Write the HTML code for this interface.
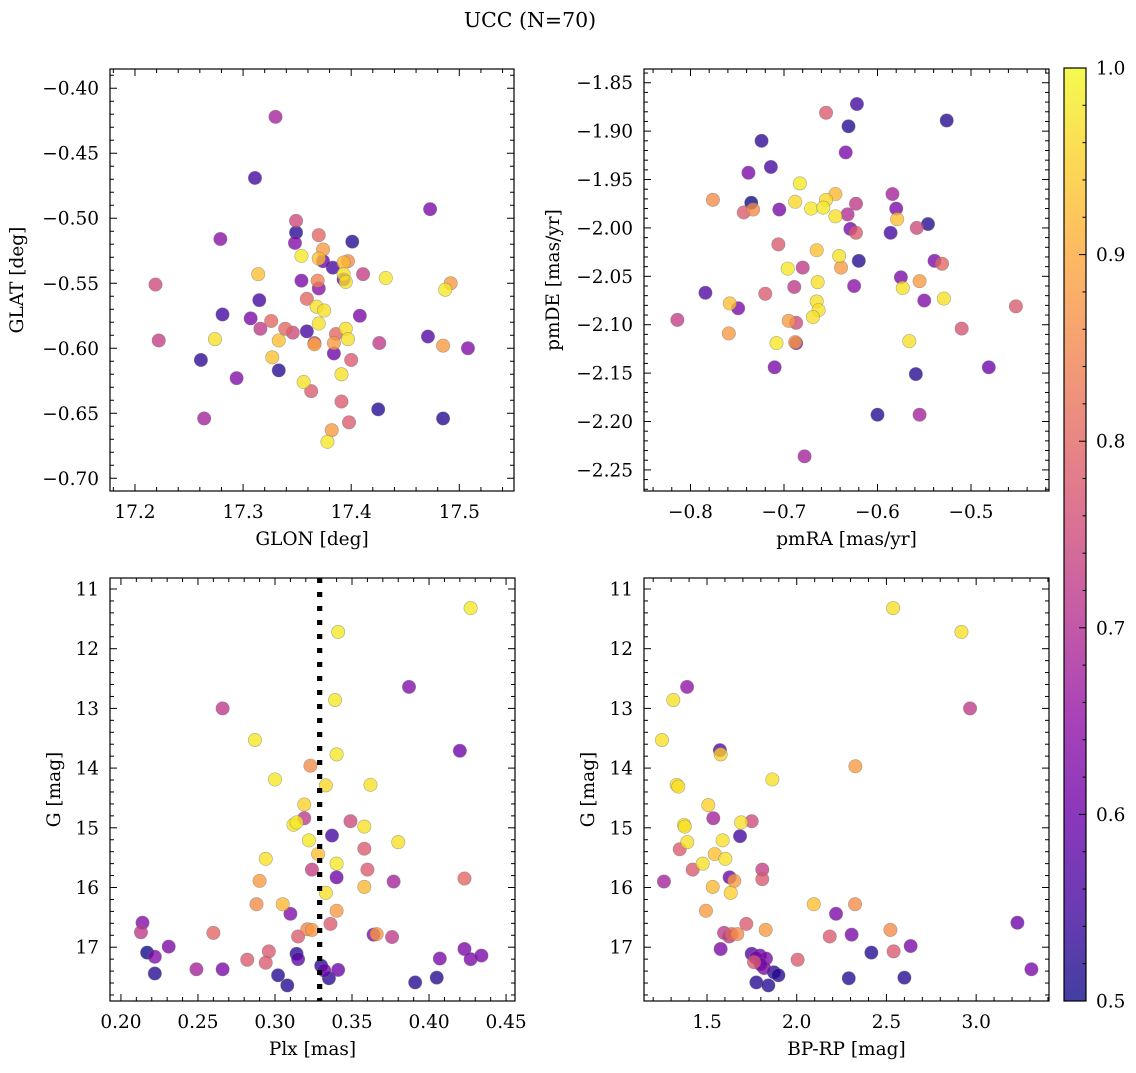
<!DOCTYPE html>
<html><head><meta charset="utf-8"><style>
html,body{margin:0;padding:0;background:#fff;}
svg text{font-family:"DejaVu Serif","Liberation Serif",serif;fill:#000;}
</style></head><body>
<svg id="fig" width="1136" height="1068" viewBox="0 0 1136 1068" xmlns="http://www.w3.org/2000/svg">
<text x="530" y="27" font-size="20.5" text-anchor="middle">UCC (N=70)</text>
<defs><linearGradient id="plasma" x1="0" y1="1" x2="0" y2="0">
<stop offset="0" stop-color="#0d0887"/><stop offset="0.1" stop-color="#41049d"/><stop offset="0.2" stop-color="#6a00a8"/><stop offset="0.3" stop-color="#8f0da4"/><stop offset="0.4" stop-color="#b12a90"/><stop offset="0.5" stop-color="#cc4778"/><stop offset="0.6" stop-color="#e16462"/><stop offset="0.7" stop-color="#f2844b"/><stop offset="0.8" stop-color="#fca636"/><stop offset="0.9" stop-color="#fcce25"/><stop offset="1" stop-color="#f0f921"/></linearGradient></defs>
</svg>
<script>
// Panel A: GLON vs GLAT
const glon=[17.330,17.311,17.473,17.279,17.349,17.349,17.348,17.370,17.401,17.374,17.354,17.370,17.374,17.383,17.397,17.393,17.393,17.393,17.395,17.411,17.432,17.314,17.219,17.354,17.369,17.370,17.492,17.487,17.315,17.359,17.368,17.375,17.281,17.408,17.307,17.326,17.316,17.339,17.370,17.395,17.346,17.359,17.386,17.397,17.274,17.222,17.333,17.366,17.384,17.426,17.471,17.485,17.508,17.384,17.327,17.261,17.400,17.333,17.391,17.294,17.356,17.363,17.391,17.425,17.485,17.264,17.398,17.382,17.378,17.366];
const glat=[-0.422,-0.469,-0.493,-0.516,-0.502,-0.511,-0.519,-0.513,-0.518,-0.524,-0.529,-0.531,-0.533,-0.538,-0.533,-0.534,-0.543,-0.547,-0.549,-0.543,-0.546,-0.543,-0.551,-0.548,-0.548,-0.554,-0.550,-0.555,-0.563,-0.562,-0.568,-0.571,-0.574,-0.575,-0.577,-0.579,-0.585,-0.585,-0.581,-0.585,-0.588,-0.587,-0.589,-0.593,-0.593,-0.594,-0.594,-0.596,-0.596,-0.596,-0.591,-0.598,-0.600,-0.604,-0.607,-0.609,-0.609,-0.617,-0.620,-0.623,-0.626,-0.633,-0.641,-0.647,-0.654,-0.654,-0.657,-0.663,-0.672,-0.597];
const probA=[.68,.55,.62,.64,.75,.52,.63,.80,.52,.88,.98,.93,.60,.55,.86,.92,.97,.60,.97,.73,.98,.93,.75,.62,.84,.64,.88,.98,.55,.80,.97,.97,.55,.62,.62,.80,.72,.80,.97,.97,.75,.55,.80,.97,.97,.73,.93,.73,.88,.72,.57,.88,.63,.60,.93,.53,.78,.52,.97,.63,.97,.78,.78,.52,.52,.68,.78,.88,.98,.90];
// Panel B: pmRA vs pmDE
const pmra=[-0.622,-0.655,-0.631,-0.526,-0.724,-0.634,-0.714,-0.738,-0.683,-0.645,-0.584,-0.776,-0.688,-0.655,-0.735,-0.671,-0.658,-0.705,-0.623,-0.743,-0.733,-0.632,-0.580,-0.645,-0.579,-0.546,-0.558,-0.629,-0.623,-0.586,-0.706,-0.665,-0.641,-0.620,-0.539,-0.531,-0.696,-0.680,-0.639,-0.664,-0.575,-0.555,-0.689,-0.625,-0.573,-0.784,-0.720,-0.665,-0.550,-0.529,-0.758,-0.749,-0.663,-0.452,-0.669,-0.814,-0.695,-0.687,-0.510,-0.759,-0.708,-0.687,-0.688,-0.566,-0.710,-0.481,-0.559,-0.600,-0.555,-0.678];
const pmde=[-1.872,-1.881,-1.895,-1.889,-1.910,-1.922,-1.937,-1.943,-1.954,-1.965,-1.965,-1.971,-1.973,-1.971,-1.974,-1.980,-1.979,-1.981,-1.975,-1.984,-1.981,-1.986,-1.980,-1.988,-1.991,-1.996,-2.000,-2.001,-2.005,-2.005,-2.017,-2.023,-2.029,-2.034,-2.034,-2.037,-2.042,-2.041,-2.041,-2.056,-2.051,-2.055,-2.061,-2.060,-2.062,-2.067,-2.068,-2.076,-2.075,-2.073,-2.078,-2.083,-2.085,-2.081,-2.092,-2.095,-2.096,-2.098,-2.104,-2.109,-2.119,-2.119,-2.118,-2.117,-2.144,-2.144,-2.151,-2.193,-2.193,-2.236];
const probB=[.55,.78,.52,.52,.53,.62,.55,.62,.98,.92,.68,.86,.96,.96,.50,.98,.98,.62,.72,.78,.86,.70,.62,.97,.93,.52,.75,.62,.78,.55,.78,.93,.97,.52,.62,.80,.98,.72,.88,.97,.62,.88,.72,.64,.97,.57,.78,.97,.63,.97,.93,.62,.97,.78,.97,.73,.88,.75,.77,.88,.98,.62,.88,.97,.62,.60,.52,.52,.68,.68];
// Panel C: Plx vs G
const plx=[0.427,0.341,0.387,0.266,0.339,0.287,0.420,0.340,0.323,0.300,0.333,0.362,0.319,0.319,0.314,0.312,0.349,0.358,0.337,0.322,0.358,0.380,0.328,0.294,0.340,0.324,0.360,0.340,0.377,0.423,0.290,0.358,0.333,0.288,0.305,0.340,0.310,0.214,0.336,0.213,0.260,0.321,0.324,0.315,0.364,0.366,0.376,0.231,0.217,0.222,0.296,0.314,0.315,0.282,0.294,0.423,0.407,0.427,0.434,0.330,0.332,0.341,0.249,0.266,0.222,0.302,0.335,0.405,0.308,0.391];
const gC=[11.32,11.72,12.64,13.00,12.86,13.53,13.71,13.77,13.96,14.19,14.29,14.28,14.61,14.84,14.91,14.95,14.89,14.98,15.13,15.21,15.35,15.24,15.44,15.52,15.60,15.70,15.70,15.83,15.90,15.85,15.89,15.99,16.09,16.28,16.28,16.39,16.44,16.59,16.61,16.75,16.76,16.70,16.71,16.82,16.79,16.78,16.83,16.99,17.09,17.16,17.07,17.11,17.20,17.21,17.26,17.03,17.19,17.20,17.14,17.31,17.39,17.38,17.37,17.37,17.44,17.47,17.52,17.51,17.64,17.59];
const probC=[.98,.98,.63,.72,.98,.98,.60,.98,.86,.98,.96,.97,.95,.72,.98,.97,.75,.97,.55,.98,.78,.97,.93,.97,.98,.73,.78,.60,.68,.80,.88,.92,.97,.86,.92,.88,.63,.63,.78,.72,.80,.85,.88,.78,.62,.88,.72,.62,.50,.63,.78,.52,.58,.78,.78,.62,.62,.62,.62,.52,.60,.60,.68,.62,.52,.52,.52,.52,.52,.52];
const plxMean=[0.329];
// Panel D: BP-RP vs G
const bprp=[2.537,2.918,1.389,1.312,2.966,1.249,1.572,1.576,2.327,1.864,1.331,1.340,1.507,1.535,1.690,1.749,1.372,1.376,1.684,1.587,1.390,1.348,1.543,1.602,1.476,1.420,1.808,1.626,1.808,1.652,1.260,1.532,1.632,2.095,2.325,1.494,2.219,3.230,1.719,2.522,1.827,1.595,1.624,1.637,1.669,2.184,2.306,2.635,1.576,2.416,2.540,1.749,1.795,1.829,1.773,1.762,2.005,1.818,1.873,1.898,3.308,2.290,2.600,1.775,1.842,1.799];
const gD=[11.32,11.72,12.64,12.86,13.00,13.53,13.70,13.77,13.97,14.19,14.28,14.31,14.62,14.84,14.91,14.89,14.95,14.98,15.14,15.21,15.24,15.36,15.44,15.52,15.60,15.70,15.70,15.83,15.86,15.89,15.90,15.99,16.09,16.28,16.28,16.39,16.44,16.59,16.61,16.71,16.71,16.76,16.82,16.78,16.78,16.82,16.79,16.98,17.03,17.09,17.07,17.11,17.14,17.19,17.18,17.25,17.21,17.35,17.42,17.47,17.37,17.52,17.51,17.59,17.64,17.29];
const probD=[.97,.97,.65,.97,.72,.97,.57,.95,.88,.97,.97,.97,.95,.68,.97,.75,.97,.97,.55,.97,.97,.78,.93,.97,.97,.78,.73,.60,.78,.88,.68,.92,.95,.93,.86,.88,.62,.60,.78,.86,.88,.72,.72,.80,.86,.78,.62,.62,.62,.52,.78,.57,.60,.62,.62,.78,.78,.62,.52,.52,.62,.52,.52,.52,.52,.62];
const cbTicks=["0.5","0.6","0.7","0.8","0.9","1.0"];

const NS="http://www.w3.org/2000/svg";
const svg=document.getElementById('fig');
const FS=18.5;
const stops=[[13,8,135],[65,4,157],[106,0,168],[143,13,164],[177,42,144],[204,71,120],[225,100,98],[242,132,75],[252,166,54],[252,206,37],[240,249,33]];
function plasma(v){let t=Math.max(0,Math.min(1,(v-0.5)/0.5))*10;let i=Math.min(9,Math.floor(t));let f=t-i;const a=stops[i],b=stops[i+1];return 'rgb('+[0,1,2].map(k=>Math.round(a[k]+(b[k]-a[k])*f)).join(',')+')';}
function mk(tag,attrs,parent){const e=document.createElementNS(NS,tag);for(const k in attrs)e.setAttribute(k,attrs[k]);(parent||svg).appendChild(e);return e;}
function fmt(v,d){let s=v.toFixed(d);return s.replace('-','\u2212');}

function panel(o){
  const g=mk('g',{});
  
  
  const sx=v=>o.L+(v-o.x0)/(o.x1-o.x0)*(o.R-o.L);
  const sy=v=>o.T+(v-o.y0)/(o.y1-o.y0)*(o.B-o.T);
  const eps=1e-9;
  for(let v=Math.ceil(o.x0/o.xmin-eps)*o.xmin;v<=o.x1+eps;v+=o.xmin){const x=sx(v);const major=Math.abs(v/o.xmaj-Math.round(v/o.xmaj))<1e-6;const len=major?7:4;
    const t1=mk('line',{x1:x,x2:x,y1:o.B,y2:o.B-len,stroke:'#000','stroke-width':1},g);
    const t2=mk('line',{x1:x,x2:x,y1:o.T,y2:o.T+len,stroke:'#000','stroke-width':1},g);}
  for(let v=Math.ceil(Math.min(o.y0,o.y1)/o.ymin-eps)*o.ymin;v<=Math.max(o.y0,o.y1)+eps;v+=o.ymin){const y=sy(v);const major=Math.abs(v/o.ymaj-Math.round(v/o.ymaj))<1e-6;const len=major?7:4;
    const t1=mk('line',{x1:o.L,x2:o.L+len,y1:y,y2:y,stroke:'#000','stroke-width':1},g);
    const t2=mk('line',{x1:o.R,x2:o.R-len,y1:y,y2:y,stroke:'#000','stroke-width':1},g);}
  o.xt.forEach(v=>{const t=mk('text',{x:sx(v),y:o.B+27,'font-size':FS,'text-anchor':'middle'},g);t.textContent=fmt(v,o.xd);});
  o.yt.forEach(v=>{const t=mk('text',{x:o.L-11,y:sy(v)+6.5,'font-size':FS,'text-anchor':'end'},g);t.textContent=fmt(v,o.yd);});
  const xl=mk('text',{x:(o.L+o.R)/2,y:o.B+54,'font-size':FS,'text-anchor':'middle'},g);xl.textContent=o.xlab;
  const yl=mk('text',{x:0,y:0,'font-size':FS,'text-anchor':'middle',transform:`translate(${o.ylx},${(o.T+o.B)/2}) rotate(-90)`},g);yl.textContent=o.ylab;
  if(o.vline){o.vline.forEach(v=>{const l=mk('line',{x1:sx(v),x2:sx(v),y1:o.T,y2:o.B,stroke:'#000','stroke-width':5,'stroke-dasharray':'5 9'},g);});}
  const idx=o.xs.map((_,i)=>i).sort((a,b)=>o.cs[a]-o.cs[b]);
  const pg=mk('g',{},g);
  idx.forEach(i=>{const c=mk('circle',{cx:sx(o.xs[i]),cy:sy(o.ys[i]),r:6.7,fill:plasma(o.cs[i]),'fill-opacity':0.78,stroke:'#777','stroke-opacity':0.6,'stroke-width':0.6},pg);
    
    });
  if(o.vline){o.vline.forEach(v=>{const l=mk('line',{x1:sx(v),x2:sx(v),y1:o.T,y2:o.B,stroke:'#000','stroke-width':5,'stroke-dasharray':'5 9'},g);});}
  const fr=mk('rect',{x:o.L,y:o.T,width:o.R-o.L,height:o.B-o.T,fill:'none',stroke:'#000','stroke-width':1.2},g);
}
panel({name:'panel-glon-glat',L:110,R:514,T:69,B:491,x0:17.1769,x1:17.5506,y0:-0.3852,y1:-0.7098,xmaj:0.1,xmin:0.02,ymaj:0.05,ymin:0.01,xt:[17.2,17.3,17.4,17.5],xd:1,yt:[-0.40,-0.45,-0.50,-0.55,-0.60,-0.65,-0.70],yd:2,xlab:'GLON [deg]',ylab:'GLAT [deg]',ylx:23,xs:glon,ys:glat,cs:probA});
panel({name:'panel-pmra-pmde',L:644,R:1049,T:69,B:491,x0:-0.8497,x1:-0.4166,y0:-1.8358,y1:-2.2718,xmaj:0.1,xmin:0.02,ymaj:0.05,ymin:0.01,xt:[-0.8,-0.7,-0.6,-0.5],xd:1,yt:[-1.85,-1.90,-1.95,-2.00,-2.05,-2.10,-2.15,-2.20,-2.25],yd:2,xlab:'pmRA [mas/yr]',ylab:'pmDE [mas/yr]',ylx:559,xs:pmra,ys:pmde,cs:probB});
panel({name:'panel-plx-g',L:110,R:515,T:578,B:1001,x0:0.1929,x1:0.4558,y0:10.816,y1:17.901,xmaj:0.05,xmin:0.01,ymaj:1,ymin:0.2,xt:[0.20,0.25,0.30,0.35,0.40,0.45],xd:2,yt:[11,12,13,14,15,16,17],yd:0,xlab:'Plx [mas]',ylab:'G [mag]',ylx:60,xs:plx,ys:gC,cs:probC,vline:plxMean});
panel({name:'panel-bprp-g',L:644,R:1049,T:578,B:1001,x0:1.1488,x1:3.406,y0:10.816,y1:17.901,xmaj:0.5,xmin:0.1,ymaj:1,ymin:0.2,xt:[1.5,2.0,2.5,3.0],xd:1,yt:[11,12,13,14,15,16,17],yd:0,xlab:'BP-RP [mag]',ylab:'G [mag]',ylx:594,xs:bprp,ys:gD,cs:probD});
// colorbar
const cb=mk('g',{});
const cbr=mk('rect',{x:1064,y:68,width:22,height:933,fill:'url(#plasma)','fill-opacity':0.78},cb);
const cbf=mk('rect',{x:1064,y:68,width:22,height:933,fill:'none',stroke:'#000','stroke-width':1.2},cb);
const cy=v=>1001-(v-0.5)/0.5*933;
for(let k=0;k<=25;k++){const v=0.5+k*0.02;const major=k%5===0;const t=mk('line',{x1:1086,x2:1086-(major?7:3.5),y1:cy(v),y2:cy(v),stroke:'#000','stroke-width':1},cb);}
cbTicks.forEach(s=>{const t=mk('text',{x:1096,y:cy(parseFloat(s))+6.5,'font-size':FS},cb);t.textContent=s;});
</script>
</body></html>
